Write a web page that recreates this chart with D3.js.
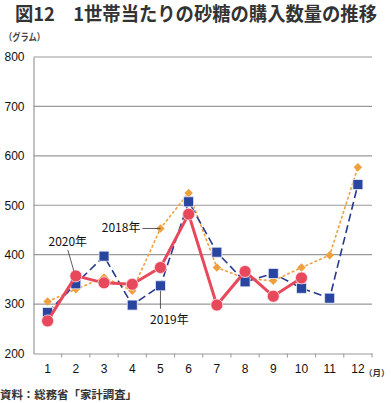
<!DOCTYPE html>
<html>
<head>
<meta charset="utf-8">
<script src="https://cdn.jsdelivr.net/npm/d3@7"></script>
<style>
  body { margin: 0; background: #fff; }
  svg { font-family: "Noto Sans CJK JP", "Liberation Sans", sans-serif; }
</style>
</head>
<body>
<div id="chart"></div>
<script>
var months = [1, 2, 3, 4, 5, 6, 7, 8, 9, 10, 11, 12];
var yTicks = [200, 300, 400, 500, 600, 700, 800];
var v2018 = [305, 330, 354, 327, 453, 525, 374, 352, 347, 374, 399, 577];
var v2019 = [283, 341, 397, 298, 337, 507, 405, 345, 362, 332, 312, 542];
var v2020 = [266, 357, 343, 340, 374, 482, 298, 366, 316, 353];

var margin = { top: 57, right: 19, bottom: 49.5, left: 33.5 };
var width = 391 - margin.left - margin.right;
var height = 403 - margin.top - margin.bottom;

var svg = d3.select("#chart").append("svg")
    .attr("width", 391)
    .attr("height", 403);

// title
svg.append("text")
    .attr("x", 15)
    .attr("y", 21)
    .attr("textLength", 362)
    .attr("lengthAdjust", "spacingAndGlyphs")
    .style("font-size", "19px")
    .style("font-weight", "bold")
    .style("fill", "#333")
    .text("図12\u30001世帯当たりの砂糖の購入数量の推移");

svg.append("text")
    .attr("x", 4)
    .attr("y", 41)
    .attr("textLength", 41)
    .attr("lengthAdjust", "spacingAndGlyphs")
    .style("font-size", "10px")
    .style("font-weight", "bold")
    .style("fill", "#444")
    .text("（グラム）");

svg.append("text")
    .attr("x", 0)
    .attr("y", 399)
    .attr("textLength", 137)
    .attr("lengthAdjust", "spacingAndGlyphs")
    .style("font-size", "11px")
    .style("font-weight", "bold")
    .style("fill", "#333")
    .text("資料：総務省「家計調査」");

var g = svg.append("g")
    .attr("transform", "translate(" + margin.left + "," + margin.top + ")");

var x = d3.scaleBand()
    .domain(months)
    .range([0, width]);

var y = d3.scaleLinear()
    .domain([200, 800])
    .range([height, 0]);

// grid
g.selectAll(".grid")
    .data(yTicks.slice(1))
    .enter().append("line")
    .attr("class", "grid")
    .attr("x1", 0)
    .attr("x2", width)
    .attr("y1", function(d) { return y(d); })
    .attr("y2", function(d) { return y(d); })
    .style("stroke", "#999")
    .style("stroke-width", 1.2);

// y axis
var yAxis = g.append("g")
    .call(d3.axisLeft(y).tickValues(yTicks).tickSize(0).tickPadding(9));
yAxis.select(".domain").style("stroke", "#999").style("stroke-width", 1.2);
yAxis.selectAll("text")
    .style("font-family", "Liberation Sans, Arial, sans-serif")
    .style("font-size", "12px")
    .style("fill", "#111");

// x axis
var xAxis = g.append("g")
    .attr("transform", "translate(0," + height + ")")
    .call(d3.axisBottom(x).tickSize(0).tickPadding(11));
xAxis.select(".domain").style("stroke", "#999").style("stroke-width", 1.2);
xAxis.selectAll("text")
    .style("font-family", "Liberation Sans, Arial, sans-serif")
    .style("font-size", "12px")
    .style("fill", "#111");

// ticks between bands
g.selectAll(".xtick")
    .data(months)
    .enter().append("line")
    .attr("class", "xtick")
    .attr("x1", function(d) { return x(d) + x.bandwidth(); })
    .attr("x2", function(d) { return x(d) + x.bandwidth(); })
    .attr("y1", height)
    .attr("y2", height + 4)
    .style("stroke", "#999");

g.append("text")
    .attr("x", width - 8)
    .attr("y", height + 22)
    .style("font-size", "8.5px")
    .style("font-weight", "bold")
    .style("fill", "#333")
    .text("（月）");

function cx(i) { return x(months[i]) + x.bandwidth() / 2; }

var line = d3.line()
    .x(function(d, i) { return cx(i); })
    .y(function(d) { return y(d); });

var orange = "#efa03e", navy = "#27388f", red = "#e8485c";

// 2018
g.append("path")
    .attr("d", line(v2018))
    .style("fill", "none")
    .style("stroke", orange)
    .style("stroke-width", 1.6)
    .style("stroke-dasharray", "3,2");
g.selectAll(".d18")
    .data(v2018)
    .enter().append("path")
    .attr("class", "d18")
    .attr("transform", function(d, i) { return "translate(" + cx(i) + "," + y(d) + ") rotate(45)"; })
    .attr("d", "M-3,-3H3V3H-3Z")
    .style("fill", orange);

// 2019
g.append("path")
    .attr("d", line(v2019))
    .style("fill", "none")
    .style("stroke", navy)
    .style("stroke-width", 1.6)
    .style("stroke-dasharray", "8,4");
g.selectAll(".d19")
    .data(v2019)
    .enter().append("rect")
    .attr("class", "d19")
    .attr("x", function(d, i) { return cx(i) - 5; })
    .attr("y", function(d) { return y(d) - 5; })
    .attr("width", 10)
    .attr("height", 10)
    .style("fill", "#2a45a0")
    .style("stroke", "#e8ecf6")
    .style("stroke-width", 0.8);

// 2020
g.append("path")
    .attr("d", line(v2020))
    .style("fill", "none")
    .style("stroke", red)
    .style("stroke-width", 3);
g.selectAll(".d20")
    .data(v2020)
    .enter().append("circle")
    .attr("class", "d20")
    .attr("cx", function(d, i) { return cx(i); })
    .attr("cy", function(d) { return y(d); })
    .attr("r", 6)
    .style("fill", red)
    .style("stroke", "#fbe3e6")
    .style("stroke-width", 0.8);

// labels with leader lines
var labelFont = "12px";
g.append("line")
    .attr("x1", cx(4) - 18).attr("x2", cx(4))
    .attr("y1", y(v2018[4])).attr("y2", y(v2018[4]))
    .style("stroke", "#333").style("stroke-width", 0.8);
g.append("text")
    .attr("x", cx(4) - 20)
    .attr("y", y(v2018[4]) + 4)
    .attr("text-anchor", "end")
    .style("font-size", labelFont)
    .style("fill", "#111")
    .text("2018年");

g.append("line")
    .attr("x1", cx(1) - 8).attr("x2", cx(1) - 2)
    .attr("y1", y(v2020[1]) - 26).attr("y2", y(v2020[1]) - 5)
    .style("stroke", "#333").style("stroke-width", 0.8);
g.append("text")
    .attr("x", cx(1) - 8)
    .attr("y", y(v2020[1]) - 30)
    .attr("text-anchor", "middle")
    .style("font-size", labelFont)
    .style("fill", "#111")
    .text("2020年");

g.append("line")
    .attr("x1", cx(4)).attr("x2", cx(4))
    .attr("y1", y(v2019[4]) + 5).attr("y2", y(v2019[4]) + 23)
    .style("stroke", "#333").style("stroke-width", 0.8);
g.append("text")
    .attr("x", cx(4) + 9)
    .attr("y", y(v2019[4]) + 38)
    .attr("text-anchor", "middle")
    .style("font-size", labelFont)
    .style("fill", "#111")
    .text("2019年");
</script>
</body>
</html>
